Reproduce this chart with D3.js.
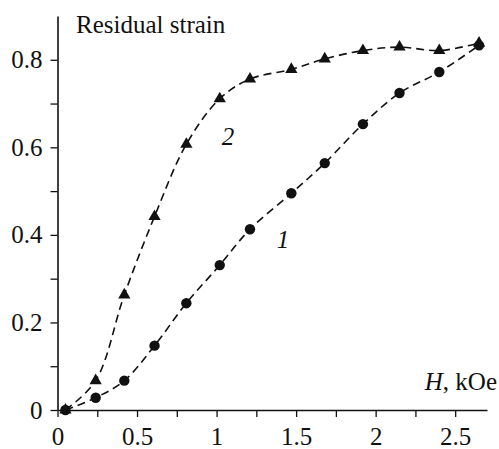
<!DOCTYPE html>
<html>
<head>
<meta charset="utf-8">
<script src="https://cdn.jsdelivr.net/npm/d3@7"></script>
<style>
  body { margin: 0; background: #fff; }
</style>
</head>
<body>
<svg width="499" height="449"></svg>
<script>
'use strict'

// H, kOe
const fieldH = [0.05, 0.24, 0.42, 0.61, 0.81, 1.02, 1.21, 1.47, 1.68, 1.92, 2.15, 2.40, 2.65]
// residual strain, curve 1 (circles) and curve 2 (triangles)
const strain1 = [0, 0.028, 0.067, 0.147, 0.244, 0.331, 0.413, 0.495, 0.564, 0.653, 0.724, 0.772, 0.833]
const strain2 = [0, 0.067, 0.263, 0.442, 0.607, 0.711, 0.756, 0.778, 0.802, 0.821, 0.829, 0.821, 0.838]

const xMajor = [0, 0.5, 1, 1.5, 2, 2.5]
const xMinor = [0.25, 0.75, 1.25, 1.75, 2.25]
const yMajor = [0, 0.2, 0.4, 0.6, 0.8]
const yMinor = [0.1, 0.3, 0.5, 0.7]

const serif = "'Liberation Serif', 'Times New Roman', serif"

const svg = d3.select('body svg')

const xScale = d3.scaleLinear().domain([0, 2.7]).range([57.5, 487])
const yScale = d3.scaleLinear().domain([0, 0.9]).range([410, 16])

const fmt = (d) => d === 0 ? '0' : d3.format('.1~f')(d)

// x axis
const xAxis = d3.axisBottom(xScale)
  .tickValues(xMajor.concat(xMinor))
  .tickFormat((d) => xMajor.includes(d) ? fmt(d) : '')
  .tickSize(7)
  .tickSizeOuter(0)
  .tickPadding(10)
svg.append('g').classed('xAxis', true)
  .attr('transform', `translate(0, ${yScale(0)})`)
  .call(xAxis)

// y axis
const yAxis = d3.axisLeft(yScale)
  .tickValues(yMajor.concat(yMinor))
  .tickFormat((d) => yMajor.includes(d) ? fmt(d) : '')
  .tickSize(7)
  .tickSizeOuter(0)
  .tickPadding(8)
svg.append('g').classed('yAxis', true)
  .attr('transform', `translate(${xScale(0)}, 0)`)
  .call(yAxis)

svg.selectAll('g.xAxis, g.yAxis').attr('font-family', serif).attr('font-size', 25)
svg.selectAll('.domain').attr('stroke', '#111').attr('stroke-width', 1.6)
svg.selectAll('.tick line').attr('stroke', '#111').attr('stroke-width', 1.3)
svg.selectAll('.tick text').attr('fill', '#111')

// curves
const line = d3.line()
  .x((d) => xScale(d[0]))
  .y((d) => yScale(d[1]))
  .curve(d3.curveCatmullRom.alpha(0.5))

const series = [
  { values: strain1, symbol: d3.symbolCircle, size: 85 },
  { values: strain2, symbol: d3.symbolTriangle, size: 65 }
]

series.forEach((s) => {
  const pts = fieldH.map((h, i) => [h, s.values[i]])
  svg.append('path')
    .datum(pts)
    .attr('d', line)
    .attr('fill', 'none')
    .attr('stroke', '#111')
    .attr('stroke-width', 1.6)
    .attr('stroke-dasharray', '8,5')
  svg.append('g').selectAll('path')
    .data(pts)
    .enter()
    .append('path')
    .attr('d', d3.symbol().type(s.symbol).size(s.size))
    .attr('transform', (d) => `translate(${xScale(d[0])}, ${yScale(d[1])})`)
    .attr('fill', '#111')
})

// labels
const label = (x, y, txt, italic, anchor) => svg.append('text')
  .attr('x', x).attr('y', y)
  .attr('text-anchor', anchor || 'start')
  .attr('font-family', serif)
  .attr('font-size', 25)
  .attr('font-style', italic ? 'italic' : 'normal')
  .attr('fill', '#111')
  .text(txt)

label(76, 33, 'Residual strain', false)
label(228, yScale(0.607) + 1, '2', true, 'middle')
label(283, yScale(0.37), '1', true, 'middle')

const hLabel = label(497, 390, '', false, 'end')
hLabel.append('tspan').attr('font-style', 'italic').text('H')
hLabel.append('tspan').text(', kOe')
</script>
</body>
</html>
